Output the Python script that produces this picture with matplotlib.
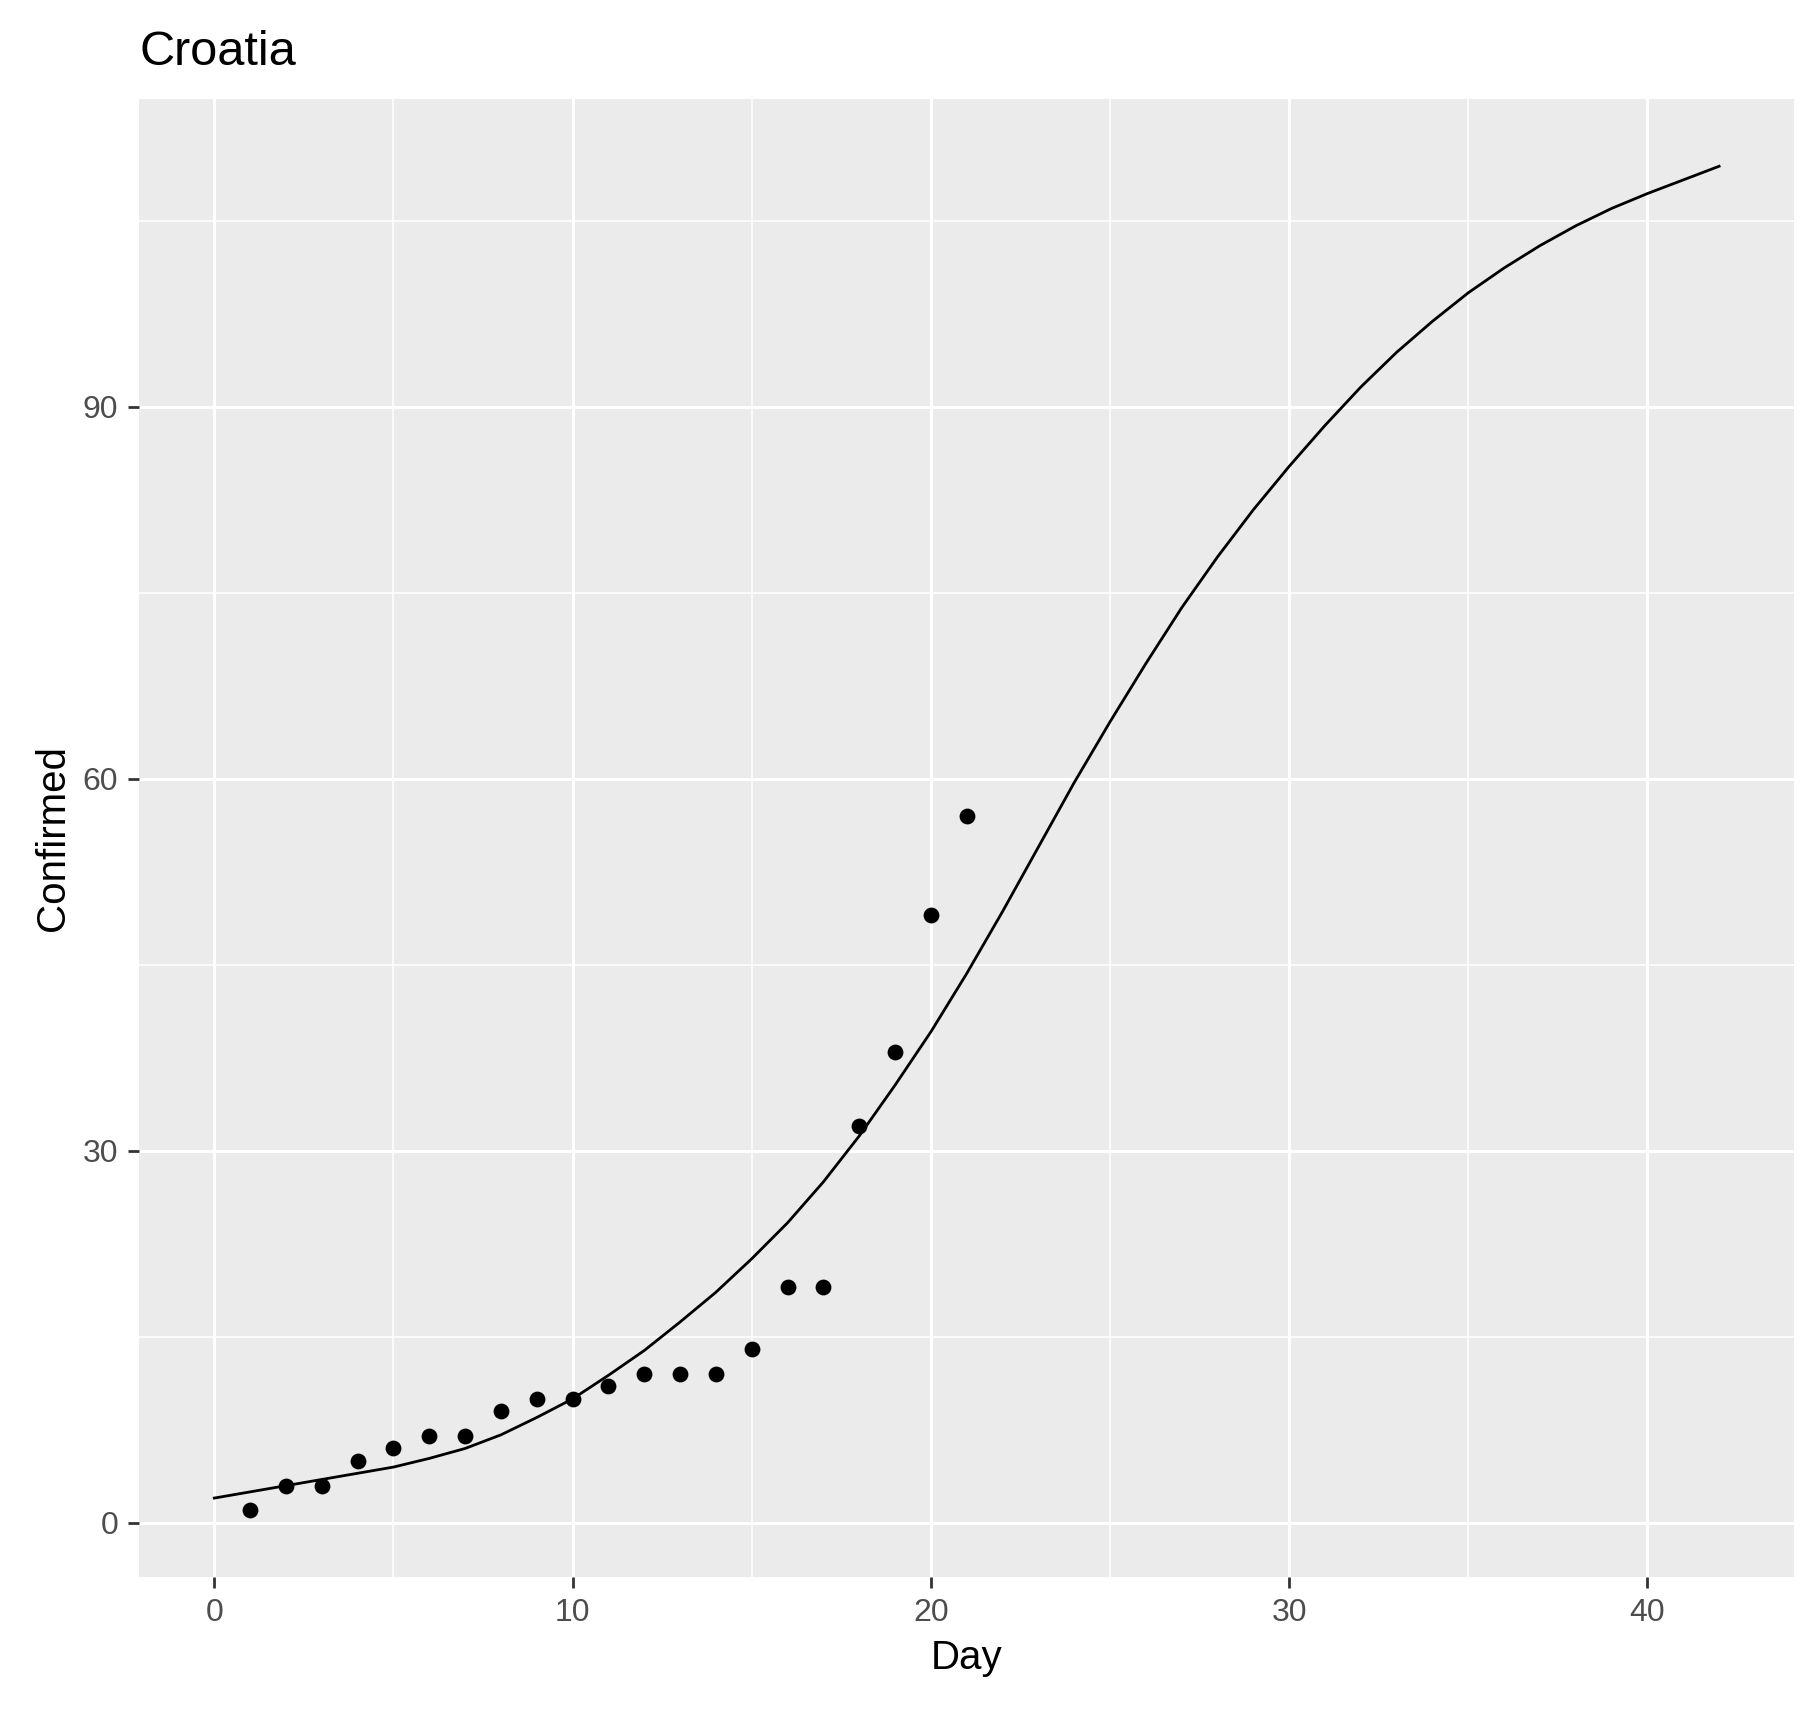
import numpy as np
import matplotlib.pyplot as plt

plt.rcParams['font.family'] = ['Liberation Sans', 'DejaVu Sans']

# observed points
days = [1, 2, 3, 4, 5, 6, 7, 8, 9, 10, 11, 12, 13, 14, 15, 16, 17, 18, 19, 20, 21]
confirmed = [1, 3, 3, 5, 6, 7, 7, 9, 10, 10, 11, 12, 12, 12, 14, 19, 19, 32, 38, 49, 57]

# fitted curve
fit_days = list(range(0, 43))
fit_vals = [2.0, 2.5, 3.0, 3.5, 4.0, 4.5, 5.2, 6.0, 7.1, 8.5, 10.0, 11.9, 13.9, 16.2,
            18.6, 21.3, 24.2, 27.5, 31.2, 35.3, 39.6, 44.3, 49.3, 54.5, 59.7, 64.6,
            69.3, 73.8, 77.9, 81.7, 85.2, 88.5, 91.6, 94.4, 96.9, 99.2, 101.2, 103.0,
            104.6, 106.0, 107.2, 108.3, 109.4]

fig = plt.figure(figsize=(9.09, 8.56), dpi=200)
ax = fig.add_axes([0.0765, 0.0786, 0.9105, 0.8634])
ax.set_facecolor('#EBEBEB')
for s in ax.spines.values():
    s.set_visible(False)

ax.set_xlim(-2.1, 44.1)
ax.set_ylim(-4.4, 114.8)
ax.set_xticks([0, 10, 20, 30, 40])
ax.set_xticks([5, 15, 25, 35], minor=True)
ax.set_yticks([0, 30, 60, 90])
ax.set_yticks([15, 45, 75, 105], minor=True)
ax.grid(which='major', color='white', linewidth=1.1)
ax.grid(which='minor', color='white', linewidth=0.55)
ax.set_axisbelow(True)
ax.tick_params(which='minor', length=0)
ax.tick_params(which='major', length=4, color='#333333', labelsize=11.5, labelcolor='#4D4D4D', width=1)

ax.plot(fit_days, fit_vals, color='black', linewidth=1.0)
ax.scatter(days, confirmed, color='black', s=22, zorder=3)

ax.set_xlabel('Day', fontsize=14.5)
ax.set_ylabel('Confirmed', fontsize=14.5)
fig.text(0.077, 0.962, 'Croatia', fontsize=17.5)

fig.savefig('out.png')
